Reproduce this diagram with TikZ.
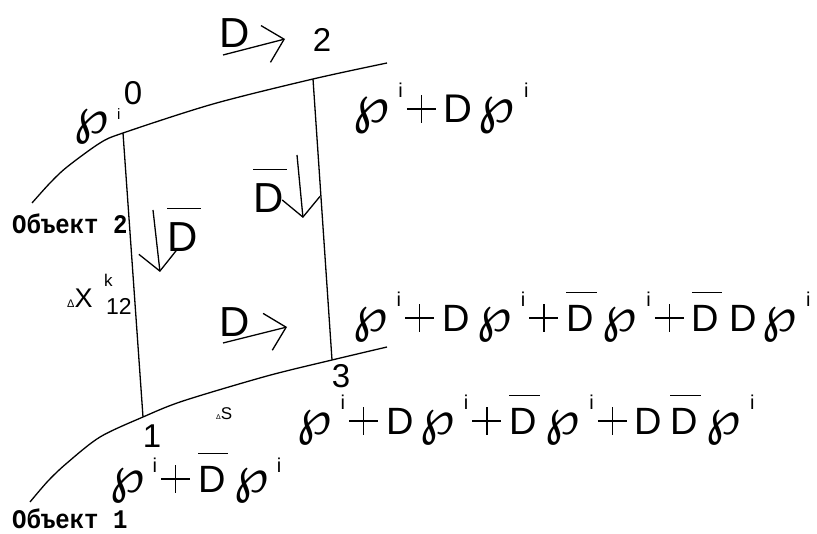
\documentclass[tikz,border=0pt]{standalone}
\usepackage{fontspec}
\setmainfont{Liberation Sans}
\newfontfamily\wpfont{DejaVu Sans}
\newfontfamily\objfont{Liberation Mono}
\usetikzlibrary{arrows.meta}
\newcommand\Pw{{\wpfont\scalebox{1.3}{℘}}}
\newcommand\upi{\hspace{9pt}\raisebox{25pt}{\fontsize{20}{20}\selectfont i}\hspace{3pt}}
\newcommand\upii{\hspace{8pt}\raisebox{20pt}{\fontsize{20}{20}\selectfont i}\hspace{3pt}}
\newcommand\Db{\rlap{\rule[1.02em]{0.8em}{1.4pt}}D\hspace{9pt}}
\newcommand\pl{\hspace{1pt}\rlap{\rule[13pt]{29pt}{1.5pt}}\hspace{13.75pt}\rule{1.5pt}{27.5pt}\hspace{13.75pt}\hspace{8pt}}
\tikzset{
  curve/.style={line width=1.3pt},
  seg/.style={line width=1.3pt},
  barb/.style={line width=1.3pt,-{Straight Barb[length=19pt,width=38pt,line width=1.3pt]}},
  expr/.style={inner sep=0pt,anchor=base west,font=\fontsize{38}{40}\selectfont},
  num/.style={inner sep=0pt,font=\fontsize{33}{34}\selectfont},
  dlab/.style={inner sep=0pt,anchor=base west,font=\fontsize{42}{44}\selectfont},
  obj/.style={inner sep=0pt,anchor=base west,font=\objfont\bfseries\fontsize{24}{24}\selectfont}
}
\begin{document}
\begin{tikzpicture}[x=1pt,y=-1pt]
\useasboundingbox (0,0) rectangle (817,534);
% points
\coordinate (p0) at (123,133);
\coordinate (p2) at (313,79);
\coordinate (p1) at (143,417);
\coordinate (p3) at (332,360);
% object curves
\draw[curve] plot[smooth] coordinates {(32,203) (50,183) (67,167) (100,143) (123,133) (213,104) (313,79) (387,63)};
\draw[curve] plot[smooth] coordinates {(30,502) (48,481) (67,463) (100,437) (143,417) (183,401) (267,376) (332,360) (387,347)};
% cross lines
\draw[seg] (p0) -- (p1);
\draw[seg] (p2) -- (p3);
% arrows
\coordinate (a1s) at (223,55);  \coordinate (a1e) at (285,39);
\coordinate (a2s) at (153,210); \coordinate (a2e) at (160,272);
\coordinate (a3s) at (297,155); \coordinate (a3e) at (303,218);
\coordinate (a4s) at (223,343); \coordinate (a4e) at (287,327);
\draw[barb] (a1s) -- (a1e);
\draw[barb] (a2s) -- (a2e);
\draw[barb] (a3s) -- (a3e);
\draw[barb] (a4s) -- (a4e);
% D labels
\node[dlab] (d1) at (219,48) {D};
\node[dlab] (d4) at (219,337) {D};
\node[dlab] (d2) at (167,252) {\Db};
\node[dlab] (d3) at (253,213) {\Db};
% point numbers
\node[num] (n0) at (133,93) {0};
\node[num] (n2) at (322,40) {2};
\node[num] (n1) at (152,436) {1};
\node[num] (n3) at (341,376) {3};
% P near 0
\node[expr] (w0) at (74,134) {\Pw};
\node[inner sep=0pt,anchor=base west,font=\fontsize{15}{15}\selectfont] (i0) at (117,120) {i};
% expressions
\node[expr,font=\fontsize{40}{42}\selectfont] (e1) at (353,123) {\Pw\upi\pl D\hspace{6pt}\Pw\upi};
\node[expr] (e2) at (353,332) {\Pw\upi\pl D\hspace{8pt}\Pw\upi\pl\Db\Pw\upi\pl\Db\hspace{1pt}D\hspace{6pt}\Pw\upi};
\node[expr] (e3) at (297,435) {\Pw\upi\pl D\hspace{7pt}\Pw\upi\pl\Db\Pw\upi\pl D\hspace{8pt}\Db\Pw\upi};
\node[expr] (e4) at (110,493) {\Pw\upii\pl\Db\Pw\upii};
% delta labels
\node[inner sep=0pt,anchor=base west] (dx) at (67,308) {{\fontsize{11}{11}\selectfont Δ}{\fontsize{27}{28}\selectfont X}};
\node[inner sep=0pt,anchor=base west,font=\fontsize{17}{17}\selectfont] (k) at (104,287) {k};
\node[inner sep=0pt,anchor=base west,font=\fontsize{23}{23}\selectfont] (n12) at (106,315) {12};
\node[inner sep=0pt,anchor=base west] (ds) at (216,420) {{\fontsize{7}{7}\selectfont Δ}{\fontsize{17}{17}\selectfont S}};
% object labels
\node[obj] (o2) at (12,234) {\scalebox{1}[1.12]{Объект 2}};
\node[obj] (o1) at (12,529) {\scalebox{1}[1.12]{Объект 1}};
\end{tikzpicture}
\end{document}
